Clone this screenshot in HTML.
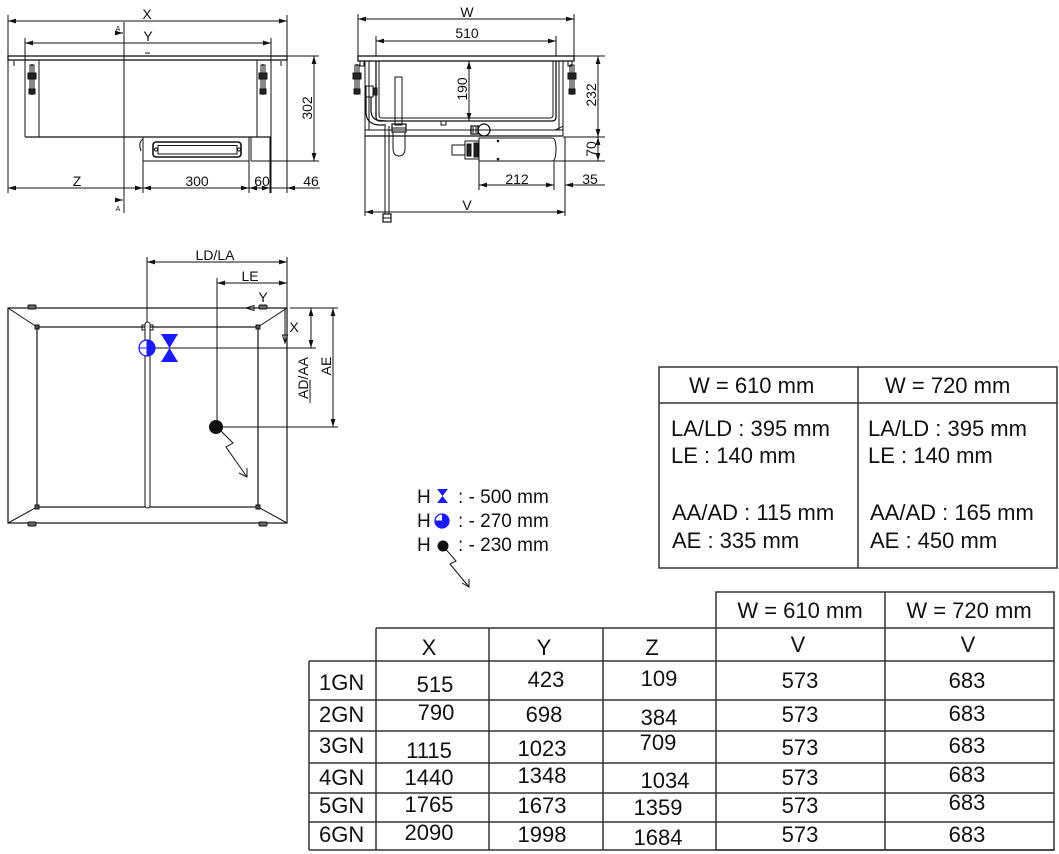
<!DOCTYPE html>
<html><head><meta charset="utf-8"><style>
html,body{margin:0;padding:0;background:#fff;}
svg{display:block;}
text{font-family:"Liberation Sans",Arial,sans-serif;fill:#111;}
</style></head><body>
<svg width="1059" height="854" viewBox="0 0 1059 854" xmlns="http://www.w3.org/2000/svg">
<defs>
<marker id="a" viewBox="0 0 10 6" refX="10" refY="3" markerWidth="8" markerHeight="5" orient="auto-start-reverse" markerUnits="userSpaceOnUse"><path d="M0,0L10,3L0,6z" fill="#111"/></marker>
</defs>

<!-- ================= FRONT VIEW ================= -->
<g stroke="#111" stroke-width="1" fill="none">
  <line x1="8" y1="21" x2="287" y2="21" marker-start="url(#a)" marker-end="url(#a)"/>
  <line x1="8" y1="15" x2="8" y2="193"/>
  <line x1="287" y1="15" x2="287" y2="193"/>
  <line x1="25" y1="43" x2="271" y2="43" marker-start="url(#a)" marker-end="url(#a)"/>
  <line x1="25" y1="38" x2="25" y2="137"/>
  <line x1="271" y1="38" x2="271" y2="193"/>
  <rect x="8" y="56" width="279" height="4" stroke-width="1.3"/>
  <line x1="145" y1="53" x2="150" y2="53"/>
  <line x1="14" y1="61" x2="14" y2="66"/>
  <line x1="281" y1="61" x2="281" y2="66"/>
  <line x1="39" y1="60" x2="39" y2="137"/>
  <line x1="257" y1="60" x2="257" y2="137"/>
  <line x1="25" y1="137" x2="271" y2="137" stroke-width="1.2"/>
  <!-- section line -->
  <line x1="124" y1="22" x2="124" y2="213"/>
  <line x1="115" y1="33" x2="123" y2="33" marker-end="url(#a)"/>
  <line x1="115" y1="200" x2="123" y2="200" marker-end="url(#a)"/>
  <!-- control panel -->
  <rect x="143" y="137" width="106" height="24"/>
  <path d="M143,139 Q138,142 141,151"/>
  <rect x="153" y="142" width="88" height="15" rx="3" stroke-width="1.6"/>
  <rect x="158" y="145.5" width="79" height="8.5"/>
  <circle cx="156" cy="149.5" r="1.5"/>
  <circle cx="239" cy="149.5" r="1.5"/>
  <line x1="251" y1="137" x2="251" y2="161"/>
  <!-- bottom dims -->
  <line x1="8" y1="188" x2="143" y2="188" marker-start="url(#a)" marker-end="url(#a)"/>
  <line x1="143" y1="188" x2="249" y2="188" marker-start="url(#a)" marker-end="url(#a)"/>
  <line x1="249" y1="188" x2="270" y2="188" marker-start="url(#a)" marker-end="url(#a)"/>
  <line x1="270" y1="188" x2="287" y2="188"/>
  <line x1="320" y1="188" x2="287" y2="188" marker-end="url(#a)"/>
  <line x1="143" y1="140" x2="143" y2="193"/>
  <line x1="249" y1="161" x2="249" y2="193"/>
  <line x1="270" y1="137" x2="270" y2="193"/>
  <!-- 302 -->
  <line x1="314" y1="56" x2="314" y2="161" marker-start="url(#a)" marker-end="url(#a)"/>
  <line x1="287" y1="56" x2="319" y2="56"/>
  <line x1="251" y1="161" x2="319" y2="161"/>
</g>
<!-- clamps front -->
<g stroke="#111" stroke-width="1" fill="none">
  <line x1="32" y1="64" x2="32" y2="95"/>
  <rect x="30" y="65" width="4" height="8"/>
  <rect x="28" y="73" width="8" height="6" fill="#222"/>
  <rect x="30" y="79" width="4" height="10"/>
  <rect x="29" y="89" width="6" height="5" fill="#222"/>
  <line x1="263" y1="64" x2="263" y2="95"/>
  <rect x="261" y="65" width="4" height="8"/>
  <rect x="259" y="73" width="8" height="6" fill="#222"/>
  <rect x="261" y="79" width="4" height="10"/>
  <rect x="260" y="89" width="6" height="5" fill="#222"/>
</g>
<g font-size="14" text-anchor="middle">
  <text x="147" y="19">X</text>
  <text x="148" y="41">Y</text>
  <text x="77" y="186">Z</text>
  <text x="197" y="186">300</text>
  <text x="262" y="186">60</text>
  <text x="311" y="186">46</text>
  <text transform="translate(312,108) rotate(-90)">302</text>
  <text x="118" y="31" font-size="7">A</text>
  <text x="118" y="211" font-size="7">A</text>
</g>

<!-- ================= SIDE VIEW ================= -->
<g stroke="#111" stroke-width="1" fill="none">
  <line x1="358" y1="19" x2="574" y2="19" marker-start="url(#a)" marker-end="url(#a)"/>
  <line x1="358" y1="14" x2="358" y2="56"/>
  <line x1="574" y1="14" x2="574" y2="56"/>
  <line x1="376" y1="41" x2="556" y2="41" marker-start="url(#a)" marker-end="url(#a)"/>
  <line x1="376" y1="36" x2="376" y2="56"/>
  <line x1="556" y1="36" x2="556" y2="56"/>
  <rect x="358" y="56" width="216" height="5" stroke-width="1.3"/>
  <rect x="360" y="61" width="4" height="5"/>
  <rect x="568" y="61" width="4" height="5"/>
  <line x1="365" y1="61" x2="365" y2="136"/>
  <line x1="369" y1="61" x2="369" y2="130"/>
  <line x1="563" y1="61" x2="563" y2="136"/>
  <line x1="559" y1="61" x2="559" y2="130"/>
  <path d="M376,61 V117 Q376,121 380,121 H552 Q556,121 556,117 V61" stroke-width="1.3"/>
  <path d="M379,61 V115 Q379,118 382,118 H550 Q553,118 553,115 V61"/>
  <line x1="365" y1="130" x2="563" y2="130"/>
  <line x1="365" y1="136" x2="563" y2="136" stroke-width="1.2"/>
  <path d="M555,130 Q560,128 563,126"/>
  <rect x="441" y="121" width="5" height="4"/>
  <!-- valve -->
  <rect x="471" y="126" width="7" height="8" stroke-width="1.3"/>
  <line x1="473" y1="127" x2="473" y2="133"/><line x1="476" y1="127" x2="476" y2="133"/><line x1="473" y1="130" x2="476" y2="130"/>
  <circle cx="484" cy="130" r="6" stroke-width="1.3"/>
  <!-- 190 -->
  <line x1="469" y1="61" x2="469" y2="121" marker-start="url(#a)" marker-end="url(#a)"/>
  <!-- 232 / 70 -->
  <line x1="598" y1="56" x2="598" y2="137" marker-start="url(#a)" marker-end="url(#a)"/>
  <line x1="598" y1="137" x2="598" y2="161" marker-start="url(#a)" marker-end="url(#a)"/>
  <line x1="574" y1="56" x2="605" y2="56"/>
  <line x1="563" y1="137" x2="605" y2="137"/>
  <line x1="554" y1="161" x2="605" y2="161"/>
  <!-- control box -->
  <path d="M479,138 H552 Q556,138 556,149 Q556,161 552,161 H479 Z"/>
  <circle cx="498" cy="141" r="0.8" fill="#111"/>
  <circle cx="498" cy="159" r="0.8" fill="#111"/>
  <rect x="452" y="145" width="13" height="10"/>
  <rect x="465" y="141" width="14" height="18"/>
  <rect x="467" y="144" width="4" height="12" fill="#222"/>
  <rect x="474" y="143" width="4" height="14" fill="#222"/>
  <!-- 212 / 35 -->
  <line x1="479" y1="185" x2="554" y2="185" marker-start="url(#a)" marker-end="url(#a)"/>
  <line x1="605" y1="185" x2="565" y2="185" marker-end="url(#a)"/>
  <line x1="479" y1="161" x2="479" y2="190"/>
  <line x1="554" y1="161" x2="554" y2="190"/>
  <line x1="565" y1="137" x2="565" y2="216"/>
  <!-- V -->
  <line x1="365" y1="212" x2="565" y2="212" marker-start="url(#a)" marker-end="url(#a)"/>
  <line x1="365" y1="136" x2="365" y2="216"/>
  <!-- pipes -->
  <line x1="385" y1="126" x2="385" y2="214"/>
  <line x1="389" y1="126" x2="389" y2="214"/>
  <rect x="383" y="214" width="8" height="8" fill="#fff" stroke-width="1.2"/>
  <line x1="383" y1="218" x2="391" y2="218"/>
  <path d="M366,97 V112 Q366,124 379,125 L386,125" stroke-width="1.2"/>
  <path d="M371,97 V110 Q371,120 380,120.5 L386,121" stroke-width="1.2"/>
  <rect x="366" y="86" width="7" height="11"/>
  <rect x="373" y="88" width="4" height="7" fill="#222"/>
  <rect x="395" y="77" width="7" height="48"/>
  <rect x="392" y="124" width="14" height="8" stroke-width="1.2"/>
  <line x1="392" y1="128" x2="406" y2="128"/>
  <path d="M393,132 V148 Q393,156 399,156 Q405,156 405,148 V132"/>
</g>
<g stroke="#111" stroke-width="1" fill="none">
  <line x1="357" y1="64" x2="357" y2="95"/>
  <rect x="355" y="65" width="4" height="8"/>
  <rect x="353" y="73" width="8" height="6" fill="#222"/>
  <rect x="355" y="79" width="4" height="10"/>
  <rect x="354" y="89" width="6" height="5" fill="#222"/>
  <line x1="572" y1="64" x2="572" y2="95"/>
  <rect x="570" y="65" width="4" height="8"/>
  <rect x="568" y="73" width="8" height="6" fill="#222"/>
  <rect x="570" y="79" width="4" height="10"/>
  <rect x="569" y="89" width="6" height="5" fill="#222"/>
</g>
<g font-size="14" text-anchor="middle">
  <text x="467" y="17">W</text>
  <text x="467" y="38">510</text>
  <text transform="translate(467,89) rotate(-90)">190</text>
  <text transform="translate(596,95) rotate(-90)">232</text>
  <text transform="translate(596,149) rotate(-90)">70</text>
  <text x="517" y="184">212</text>
  <text x="590" y="184">35</text>
  <text x="467" y="210">V</text>
</g>

<!-- ================= PLAN VIEW ================= -->
<g stroke="#111" stroke-width="1" fill="none">
  <rect x="8" y="308" width="279" height="215" stroke-width="1.2"/>
  <rect x="37" y="327" width="221" height="180" stroke-width="1.2"/>
  <line x1="8" y1="308" x2="37" y2="327"/>
  <line x1="287" y1="308" x2="258" y2="327"/>
  <line x1="8" y1="523" x2="37" y2="507"/>
  <line x1="287" y1="523" x2="258" y2="507"/>
  <rect x="28" y="305" width="8" height="4" rx="1" fill="#666"/>
  <rect x="259" y="305" width="8" height="4" rx="1" fill="#666"/>
  <rect x="28" y="522" width="8" height="4" rx="1" fill="#666"/>
  <rect x="259" y="522" width="8" height="4" rx="1" fill="#666"/>
  <rect x="35" y="325" width="4" height="4" fill="#555"/>
  <rect x="256" y="325" width="4" height="4" fill="#555"/>
  <rect x="35" y="505" width="4" height="4" fill="#555"/>
  <rect x="256" y="505" width="4" height="4" fill="#555"/>
  <rect x="145" y="322" width="5" height="186" rx="2.5" fill="#fff"/>
  <rect x="142" y="325" width="3" height="5"/>
  <rect x="150" y="325" width="3" height="5"/>
  <!-- dims -->
  <line x1="147" y1="262" x2="287" y2="262" marker-start="url(#a)" marker-end="url(#a)"/>
  <line x1="147" y1="257" x2="147" y2="322"/>
  <line x1="287" y1="257" x2="287" y2="308"/>
  <line x1="217" y1="283" x2="287" y2="283" marker-start="url(#a)" marker-end="url(#a)"/>
  <line x1="217" y1="278" x2="217" y2="427"/>
  <line x1="285" y1="308" x2="285" y2="343"/>
  <polygon points="285,343 282.5,335 287.5,335"/>
  <polygon points="246,308 254,305.5 254,310.5"/>
  <line x1="147" y1="348" x2="316" y2="348"/>
  <line x1="290" y1="308" x2="338" y2="308"/>
  <line x1="216" y1="427" x2="338" y2="427"/>
  <line x1="311" y1="308" x2="311" y2="348" marker-start="url(#a)" marker-end="url(#a)"/>
  <line x1="310" y1="380" x2="310" y2="403"/>
  <line x1="333" y1="308" x2="333" y2="427" marker-start="url(#a)" marker-end="url(#a)"/>
  <!-- zigzag -->
  <polyline points="217,427 233,443 226,447 247,477"/>
  <polyline points="239,473 247,477 247,468"/>
</g>
<circle cx="216" cy="427" r="7" fill="#111"/>
<!-- blue symbols -->
<g>
  <circle cx="147" cy="348" r="8" fill="#fff" stroke="#1a1aff" stroke-width="1.3"/>
  <path d="M147,340 A8,8 0 0 1 147,356 Z" fill="#1a1aff"/>
  <line x1="139" y1="348" x2="147" y2="348" stroke="#1a1aff" stroke-width="1"/>
  <line x1="147" y1="340" x2="147" y2="356" stroke="#1a1aff" stroke-width="1"/>
  <polygon points="161,334 178,334 169.5,348 178,362 161,362 169.5,348" fill="#1a1aff"/>
</g>
<g font-size="14" text-anchor="middle">
  <text x="215" y="260">LD/LA</text>
  <text x="250" y="281">LE</text>
  <text x="263" y="302">Y</text>
  <text x="294" y="332">X</text>
  <text transform="translate(308,378) rotate(-90)">AD/AA</text>
  <text transform="translate(331,366) rotate(-90)">AE</text>
</g>

<!-- ================= LEGEND ================= -->
<g font-size="19">
  <text x="417" y="503">H</text>
  <text x="458" y="503">: - 500 mm</text>
  <text x="417" y="527">H</text>
  <text x="458" y="527">: - 270 mm</text>
  <text x="417" y="551">H</text>
  <text x="458" y="551">: - 230 mm</text>
</g>
<polygon points="437,489 448,489 442.5,496 448,503 437,503 442.5,496" fill="#1a1aff"/>
<circle cx="442" cy="521" r="7" fill="#fff" stroke="#1a1aff" stroke-width="1.3"/>
<path d="M442,514 A7,7 0 0 1 442,528 Z" fill="#1a1aff"/>
<path d="M442,521 L435,521 A7,7 0 0 0 442,528 Z" fill="#1a1aff"/>
<line x1="435" y1="521" x2="442" y2="521" stroke="#1a1aff"/>
<circle cx="443" cy="546" r="5.5" fill="#111"/>
<g stroke="#111" stroke-width="1" fill="none">
  <polyline points="443,546 456,561 450,564 469,587"/>
  <polyline points="462,583 469,587 469,579"/>
</g>

<!-- ================= RIGHT TABLE ================= -->
<g stroke="#333" stroke-width="1.5" fill="none">
  <rect x="659" y="367" width="398" height="201"/>
  <line x1="858" y1="367" x2="858" y2="568"/>
  <line x1="659" y1="403" x2="1057" y2="403"/>
</g>
<g font-size="22">
  <text x="689" y="393">W = 610 mm</text>
  <text x="885" y="393">W = 720 mm</text>
  <text x="671" y="436">LA/LD : 395 mm</text>
  <text x="671" y="463">LE : 140 mm</text>
  <text x="672" y="520">AA/AD : 115 mm</text>
  <text x="672" y="548">AE : 335 mm</text>
  <text x="868" y="436">LA/LD : 395 mm</text>
  <text x="868" y="463">LE : 140 mm</text>
  <text x="870" y="520">AA/AD : 165 mm</text>
  <text x="870" y="548">AE : 450 mm</text>
</g>

<!-- ================= BOTTOM TABLE ================= -->
<g stroke="#333" stroke-width="1.5" fill="none">
  <rect x="716" y="592" width="338" height="258"/>
  <line x1="885" y1="592" x2="885" y2="850"/>
  <line x1="376" y1="628" x2="1054" y2="628"/>
  <line x1="376" y1="628" x2="376" y2="850"/>
  <line x1="489" y1="628" x2="489" y2="850"/>
  <line x1="603" y1="628" x2="603" y2="850"/>
  <line x1="309" y1="661" x2="1054" y2="661"/>
  <line x1="309" y1="661" x2="309" y2="850"/>
  <line x1="309" y1="700" x2="1054" y2="700"/>
  <line x1="309" y1="731" x2="1054" y2="731"/>
  <line x1="309" y1="763" x2="1054" y2="763"/>
  <line x1="309" y1="793" x2="1054" y2="793"/>
  <line x1="309" y1="822" x2="1054" y2="822"/>
  <line x1="309" y1="850" x2="1054" y2="850"/>
</g>
<g font-size="22" text-anchor="middle">
  <text x="429" y="655">X</text>
  <text x="544" y="655">Y</text>
  <text x="652" y="655">Z</text>
  <text x="800" y="618">W = 610 mm</text>
  <text x="969" y="618">W = 720 mm</text>
  <text x="798" y="652">V</text>
  <text x="968" y="652">V</text>

  <text x="435" y="692">515</text><text x="546" y="687">423</text><text x="659" y="686">109</text>
  <text x="436" y="720">790</text><text x="544" y="722">698</text><text x="659" y="725">384</text>
  <text x="429" y="758">1115</text><text x="542" y="756">1023</text><text x="658" y="750">709</text>
  <text x="429" y="785">1440</text><text x="542" y="783">1348</text><text x="665" y="788">1034</text>
  <text x="429" y="812">1765</text><text x="542" y="813">1673</text><text x="658" y="815">1359</text>
  <text x="429" y="840">2090</text><text x="542" y="842">1998</text><text x="658" y="845">1684</text>

  <text x="800" y="688">573</text><text x="967" y="688">683</text>
  <text x="800" y="722">573</text><text x="967" y="721">683</text>
  <text x="800" y="755">573</text><text x="967" y="753">683</text>
  <text x="800" y="785">573</text><text x="967" y="782">683</text>
  <text x="800" y="813">573</text><text x="967" y="810">683</text>
  <text x="800" y="842">573</text><text x="967" y="842">683</text>
</g>
<g font-size="22">
  <text x="319" y="690">1GN</text>
  <text x="319" y="722">2GN</text>
  <text x="319" y="753">3GN</text>
  <text x="319" y="785">4GN</text>
  <text x="319" y="813">5GN</text>
  <text x="319" y="842">6GN</text>
</g>
</svg>
</body></html>
